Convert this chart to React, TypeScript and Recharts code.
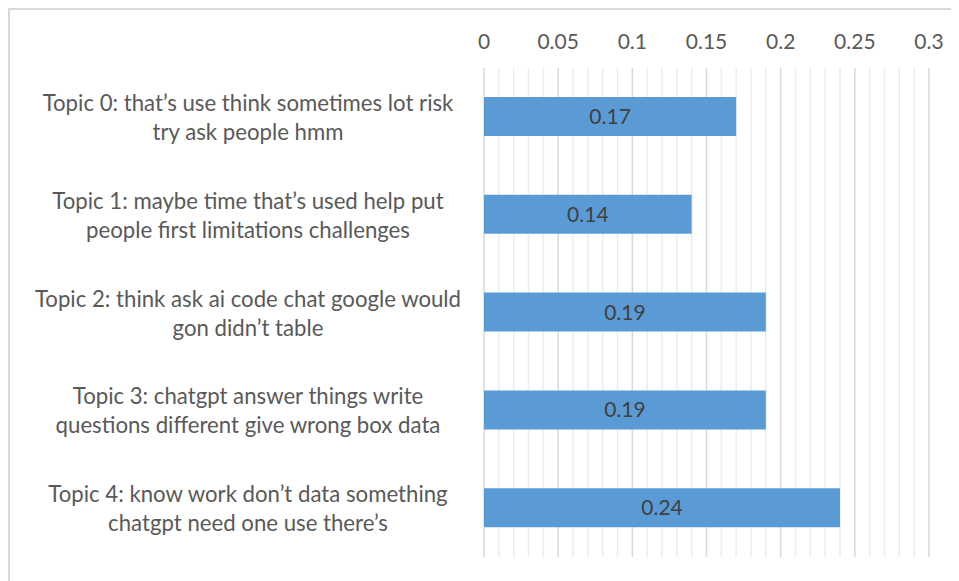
import { Bar, BarChart, CartesianGrid, LabelList, XAxis, YAxis } from "recharts";

// topic keyword labels, each wrapped over two lines
const topicLines: string[][] = [
  ["Topic 0: that’s use think sometimes lot risk", "try ask people hmm"],
  ["Topic 1: maybe time that’s used help put", "people first limitations challenges"],
  ["Topic 2: think ask ai code chat google would", "gon didn’t table"],
  ["Topic 3: chatgpt answer things write", "questions different give wrong box data"],
  ["Topic 4: know work don’t data something", "chatgpt need one use there’s"],
];

const shares = [0.17, 0.14, 0.19, 0.19, 0.24];

const majorTicks = [0, 0.05, 0.1, 0.15, 0.2, 0.25, 0.3];
const minorTicks = [
  0.01, 0.02, 0.03, 0.04, 0.06, 0.07, 0.08, 0.09, 0.11, 0.12, 0.13, 0.14,
  0.16, 0.17, 0.18, 0.19, 0.21, 0.22, 0.23, 0.24, 0.26, 0.27, 0.28, 0.29,
];

const data = topicLines.map((lines, i) => ({
  topic: `Topic ${i}`,
  share: shares[i],
}));

const FONT = "Lato, 'Liberation Sans', sans-serif";
const TEXT = "#595959";

function TopicTick(props: any) {
  const { y, payload } = props;
  const idx = data.findIndex((d) => d.topic === payload.value);
  const lines = topicLines[idx] || [];
  return (
    <text x={238} y={y} textAnchor="middle" fill={TEXT} fontSize={22.2} fontFamily={FONT}>
      {lines.map((ln, i) => (
        <tspan key={i} x={238} dy={i === 0 ? -6 : 29}>
          {ln}
        </tspan>
      ))}
    </text>
  );
}

function ValueTick(props: any) {
  const { x, payload } = props;
  return (
    <text x={x} y={39} textAnchor="middle" fill={TEXT} fontSize={21} fontFamily={FONT}>
      {payload.value}
    </text>
  );
}

// minor gridlines every 0.01, placed through the x axis scale
const minorCoords = ({ xAxis, offset }: any) => {
  if (xAxis && typeof xAxis.scale === "function") {
    return minorTicks.map((v) => xAxis.scale(v));
  }
  return minorTicks.map((v) => offset.left + (v / 0.3) * offset.width);
};

export default function App() {
  return (
    <div
      style={{
        width: 951,
        height: 573,
        overflow: "hidden",
        boxSizing: "border-box",
        borderTop: "2px solid #d9d9d9",
        borderLeft: "2px solid #d9d9d9",
        background: "#fff",
      }}
    >
      <BarChart
        width={949}
        height={571}
        data={data}
        layout="vertical"
        margin={{ top: 28, right: 30, bottom: 24, left: 0 }}
      >
        <CartesianGrid
          horizontal={false}
          verticalCoordinatesGenerator={minorCoords}
          stroke="#ececec"
          strokeWidth={1.5}
        />
        <CartesianGrid horizontal={false} stroke="#d9d9d9" strokeWidth={1.5} />
        <XAxis
          type="number"
          orientation="top"
          domain={[0, 0.3]}
          ticks={majorTicks}
          axisLine={false}
          tickLine={false}
          height={30}
          tick={<ValueTick />}
        />
        <YAxis
          type="category"
          dataKey="topic"
          width={474}
          axisLine={false}
          tickLine={false}
          tick={<TopicTick />}
        />
        <Bar dataKey="share" fill="#5b9bd5" barSize={39} isAnimationActive={false}>
          <LabelList
            dataKey="share"
            position="center"
            fill="#404040"
            fontSize={21}
            fontFamily={FONT}
          />
        </Bar>
      </BarChart>
    </div>
  );
}
